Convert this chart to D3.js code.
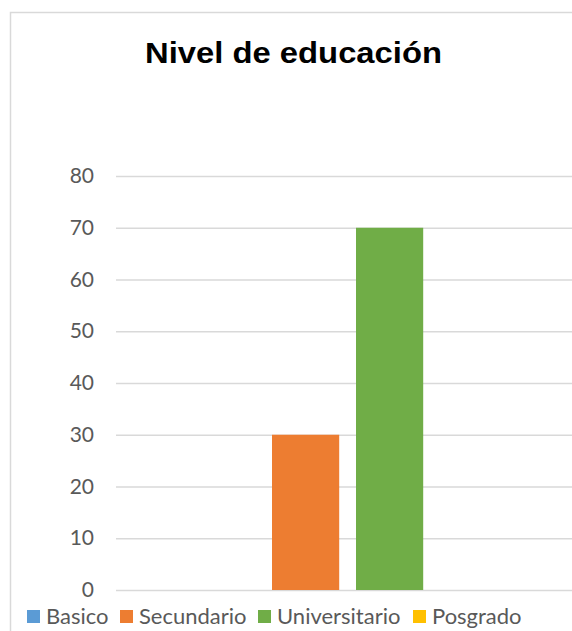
<!DOCTYPE html>
<html>
<head>
<meta charset="utf-8">
<script src="https://cdn.jsdelivr.net/npm/d3@7"></script>
<style>
  body { margin: 0; background: #fff; overflow: hidden; }
</style>
</head>
<body>
<div id="chart"></div>
<script>
// data
const categories = ["Basico", "Secundario", "Universitario", "Posgrado"];
const values = [0, 30, 70, 0];
const colors = ["#5B9BD5", "#ED7D31", "#70AD47", "#FFC000"];
const yTicks = [0, 10, 20, 30, 40, 50, 60, 70, 80];

const width = 572, height = 631;
const plotLeft = 116, plotRight = 600, plotTop = 176, plotBottom = 590;

var svg = d3.select("#chart")
    .append("svg")
    .attr("width", width)
    .attr("height", height);

// chart border (right / bottom edges run off the picture)
svg.append("rect")
    .attr("x", 10.5)
    .attr("y", 12.5)
    .attr("width", 700)
    .attr("height", 700)
    .attr("fill", "#fff")
    .attr("stroke", "#D9D9D9")
    .attr("stroke-width", 1.5);

// title
svg.append("text")
    .attr("x", 145)
    .attr("y", 63)
    .attr("textLength", 297)
    .attr("lengthAdjust", "spacingAndGlyphs")
    .style("font-family", "'Liberation Sans', Arial, sans-serif")
    .style("font-weight", "bold")
    .style("font-size", "30px")
    .style("fill", "#000")
    .text("Nivel de educación");

var y = d3.scaleLinear()
    .domain([0, 80])
    .range([plotBottom, plotTop]);

var x = d3.scaleBand()
    .domain(categories)
    .range([188, 507.2])
    .paddingInner(0.2)
    .paddingOuter(0);

// gridlines
const grid = d3.axisLeft(y)
    .tickValues(yTicks)
    .tickSize(-(plotRight - plotLeft))
    .tickFormat("");

svg.append("g")
    .attr("transform", "translate(" + plotLeft + ",0)")
    .call(grid)
    .call(g => g.select(".domain").remove())
    .selectAll("line")
    .attr("stroke", "#D9D9D9")
    .attr("stroke-width", 1.5);

// tick labels
const yAxis = d3.axisLeft(y)
    .tickValues(yTicks)
    .tickSize(0)
    .tickPadding(22);

svg.append("g")
    .attr("transform", "translate(" + plotLeft + ",0)")
    .call(yAxis)
    .call(g => g.select(".domain").remove())
    .selectAll("text")
    .style("font-family", "Lato, 'Open Sans', sans-serif")
    .style("font-size", "21px")
    .style("fill", "#595959");

// bars
svg.selectAll(".bar")
    .data(values)
    .enter()
    .append("rect")
    .attr("class", "bar")
    .attr("x", (d, i) => x(categories[i]))
    .attr("y", d => y(d))
    .attr("width", x.bandwidth())
    .attr("height", d => y(0) - y(d))
    .attr("fill", (d, i) => colors[i]);

// legend
const legendX = [27, 120, 258, 413];
var legend = svg.selectAll(".legend")
    .data(categories)
    .enter()
    .append("g")
    .attr("class", "legend")
    .attr("transform", (d, i) => "translate(" + legendX[i] + ",610)");

legend.append("rect")
    .attr("width", 13)
    .attr("height", 13)
    .attr("fill", (d, i) => colors[i]);

legend.append("text")
    .attr("x", 19)
    .attr("y", 13.5)
    .style("font-family", "Lato, 'Open Sans', sans-serif")
    .style("font-size", "22px")
    .style("fill", "#595959")
    .text(d => d);
</script>
</body>
</html>
